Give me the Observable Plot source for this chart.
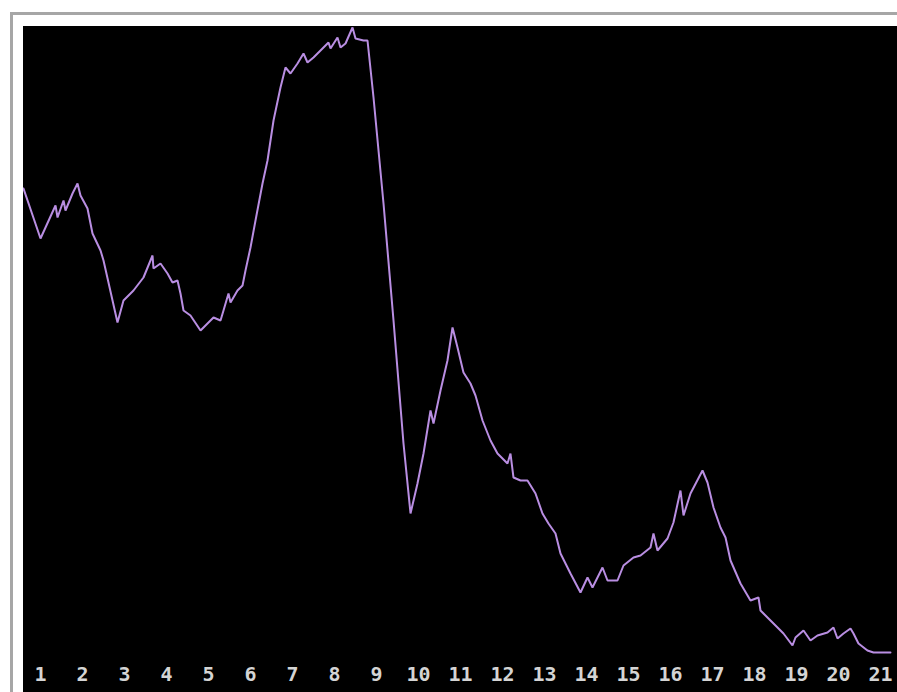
<!DOCTYPE html>
<html>
<head>
<meta charset="utf-8">
<script src="https://cdn.jsdelivr.net/npm/d3@7"></script>
<script src="https://cdn.jsdelivr.net/npm/@observablehq/plot@0.6"></script>
<style>
  html, body { margin: 0; padding: 0; background: #ffffff; overflow: hidden; }
  #frame { position: absolute; left: 10px; top: 12px; width: 900px; height: 700px;
           border-top: 3px solid #a6a6a6; border-left: 3px solid #a6a6a6; box-sizing: border-box; }
  #chart { position: absolute; left: 23px; top: 26px; width: 874px; height: 666px; background: #000; }
  #chart svg { display: block; }
</style>
</head>
<body>
<div id="frame"></div>
<div id="chart"></div>
<script>
// x position in tick units (1..21), y level
const xVals = [0.595,1.0,1.357,1.405,1.548,1.595,1.762,1.881,1.952,2.119,2.238,2.429,2.5,2.833,2.976,3.214,3.452,3.667,3.69,3.857,4.024,4.143,4.262,4.333,4.405,4.571,4.81,4.976,5.119,5.286,5.357,5.476,5.524,5.69,5.81,5.881,6.0,6.119,6.286,6.405,6.548,6.714,6.833,6.952,7.119,7.262,7.357,7.5,7.667,7.857,7.905,8.071,8.143,8.262,8.429,8.5,8.69,8.786,8.929,9.167,9.405,9.643,9.81,9.976,10.119,10.286,10.357,10.524,10.69,10.81,10.929,11.071,11.238,11.357,11.524,11.714,11.881,12.119,12.19,12.262,12.429,12.595,12.786,12.952,13.095,13.262,13.381,13.619,13.857,14.024,14.143,14.381,14.5,14.738,14.881,15.119,15.286,15.524,15.595,15.69,15.929,16.071,16.238,16.31,16.476,16.762,16.881,17.024,17.19,17.31,17.429,17.667,17.905,18.095,18.143,18.333,18.548,18.69,18.905,18.976,19.167,19.333,19.5,19.738,19.881,19.976,20.119,20.286,20.357,20.476,20.69,20.833,21.238];
const yVals = [474,424,457,445,462,452,469,479,467,454,429,412,402,340,362,372,385,407,394,399,389,380,382,369,352,347,332,339,345,342,352,369,360,372,377,392,415,442,479,502,542,575,595,589,599,609,600,605,612,620,614,625,615,619,635,624,622,622,565,459,342,219,149,179,209,252,239,272,302,335,315,290,279,267,242,222,209,199,209,185,182,182,169,149,139,129,109,89,70,85,75,95,82,82,97,105,107,115,129,112,124,140,172,147,169,192,180,155,135,125,102,79,62,65,52,44,35,29,17,25,32,22,27,30,35,24,29,34,29,19,12,10,10];
const xTicks = [1,2,3,4,5,6,7,8,9,10,11,12,13,14,15,16,17,18,19,20,21];
const xDomain = [0.595, 21.405];
const yDomain = [0, 636];

const data = xVals.map((x, i) => ({x, y: yVals[i]}));

const chart = Plot.plot({
  width: 874,
  height: 666,
  marginLeft: 0,
  marginRight: 0,
  marginTop: 0,
  marginBottom: 30,
  style: {background: "#000", color: "#d4d4d4", fontFamily: "'DejaVu Sans Mono', monospace", fontSize: "20px", fontWeight: "bold"},
  x: {domain: xDomain, label: null},
  y: {domain: yDomain, axis: null},
  marks: [
    Plot.axisX({ticks: xTicks, tickSize: 0, tickPadding: 4, tickFormat: d => String(d), label: null, fontSize: 20, fontWeight: "bold"}),
    Plot.line(data, {x: "x", y: "y", stroke: "#b98ee2", strokeWidth: 2, strokeLinejoin: "miter"})
  ]
});
document.getElementById("chart").appendChild(chart);
</script>
</body>
</html>
